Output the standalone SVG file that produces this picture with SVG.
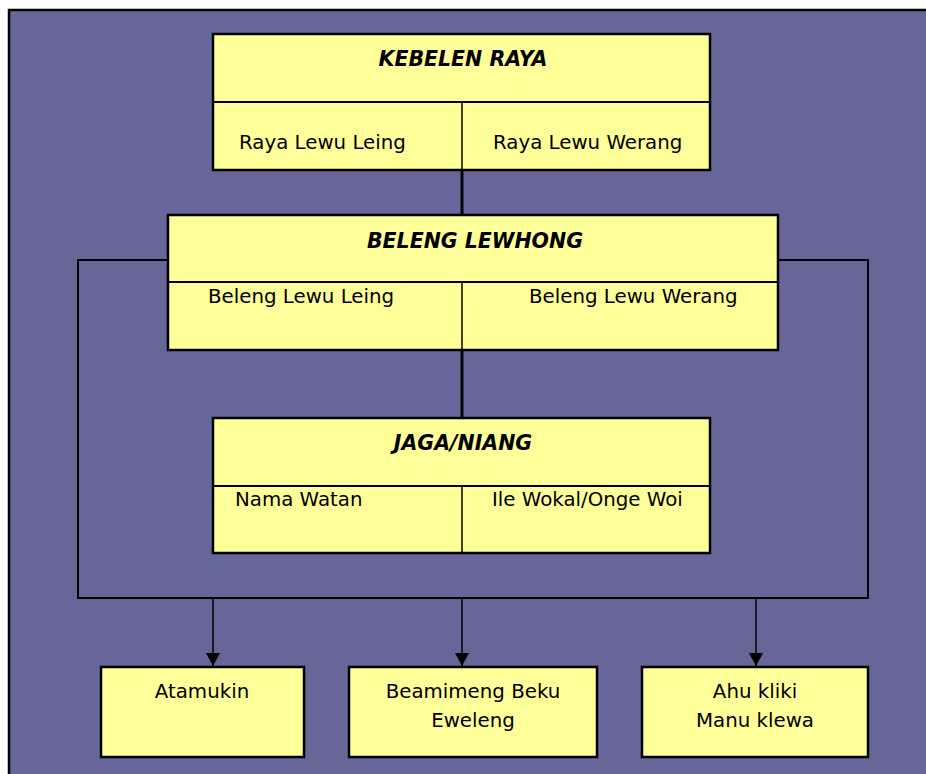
<svg xmlns="http://www.w3.org/2000/svg" width="926" height="774" viewBox="0 0 926 774">
<defs>
<style>
.box{fill:#FFFF99;stroke:#000;stroke-width:2.5}
.div{stroke:#000;stroke-width:2;fill:none}
.vdiv{stroke:#000;stroke-width:1.5;fill:none}
.t{font-family:"DejaVu Sans","Liberation Sans",sans-serif;font-size:19.8px;fill:#000}
.h{font-family:"DejaVu Sans","Liberation Sans",sans-serif;font-size:20.5px;font-weight:bold;font-style:italic;fill:#000}
.c{text-anchor:middle}
.thick{stroke:#000;stroke-width:3;fill:none}
.thin{stroke:#000;stroke-width:2;fill:none}
.arr{stroke:#000;stroke-width:1.5;fill:none;marker-end:url(#ah)}
</style>
<marker id="ah" markerUnits="userSpaceOnUse" markerWidth="14" markerHeight="14" refX="13" refY="7" orient="auto" viewBox="0 0 14 14">
<path d="M0,0 L13,7 L0,14 Z" fill="#000"/>
</marker>
</defs>
<rect x="9" y="10" width="930" height="780" fill="#666699" stroke="#000" stroke-width="2.5"/>
<g id="connectors">
<line class="thick" x1="462" y1="170" x2="462" y2="215"/>
<line class="thick" x1="462" y1="350" x2="462" y2="417"/>
<polyline class="thin" points="168,260 78,260 78,598 868,598 868,260 778,260"/>
<line class="arr" x1="213" y1="598" x2="213" y2="666"/>
<line class="arr" x1="462" y1="598" x2="462" y2="666"/>
<line class="arr" x1="756" y1="598" x2="756" y2="666"/>
</g>
<g id="kebelen-raya">
<rect class="box" x="213" y="34" width="497" height="136"/>
<line class="div" x1="213" y1="102" x2="710" y2="102"/>
<line class="vdiv" x1="462" y1="102" x2="462" y2="170"/>
<text class="h c" x="463" y="66">KEBELEN RAYA</text>
<text class="t" x="239" y="149">Raya Lewu Leing</text>
<text class="t" x="493" y="149">Raya Lewu Werang</text>
</g>
<g id="beleng-lewhong">
<rect class="box" x="168" y="215" width="610" height="135"/>
<line class="div" x1="168" y1="282" x2="778" y2="282"/>
<line class="vdiv" x1="462" y1="282" x2="462" y2="350"/>
<text class="h c" x="475" y="248">BELENG LEWHONG</text>
<text class="t" x="208" y="303">Beleng Lewu Leing</text>
<text class="t" x="529" y="303">Beleng Lewu Werang</text>
</g>
<g id="jaga-niang">
<rect class="box" x="213" y="418" width="497" height="135"/>
<line class="div" x1="213" y1="486" x2="710" y2="486"/>
<line class="vdiv" x1="462" y1="486" x2="462" y2="553"/>
<text class="h c" x="463" y="450">JAGA/NIANG</text>
<text class="t" x="235" y="506">Nama Watan</text>
<text class="t" x="492" y="506">Ile Wokal/Onge Woi</text>
</g>
<g id="atamukin">
<rect class="box" x="101" y="667" width="203" height="90"/>
<text class="t c" x="202" y="698">Atamukin</text>
</g>
<g id="beamimeng">
<rect class="box" x="349" y="667" width="248" height="90"/>
<text class="t c" x="473" y="698">Beamimeng Beku</text>
<text class="t c" x="473" y="727">Eweleng</text>
</g>
<g id="ahu-kliki">
<rect class="box" x="642" y="667" width="226" height="90"/>
<text class="t c" x="755" y="698">Ahu kliki</text>
<text class="t c" x="755" y="727">Manu klewa</text>
</g>
</svg>
